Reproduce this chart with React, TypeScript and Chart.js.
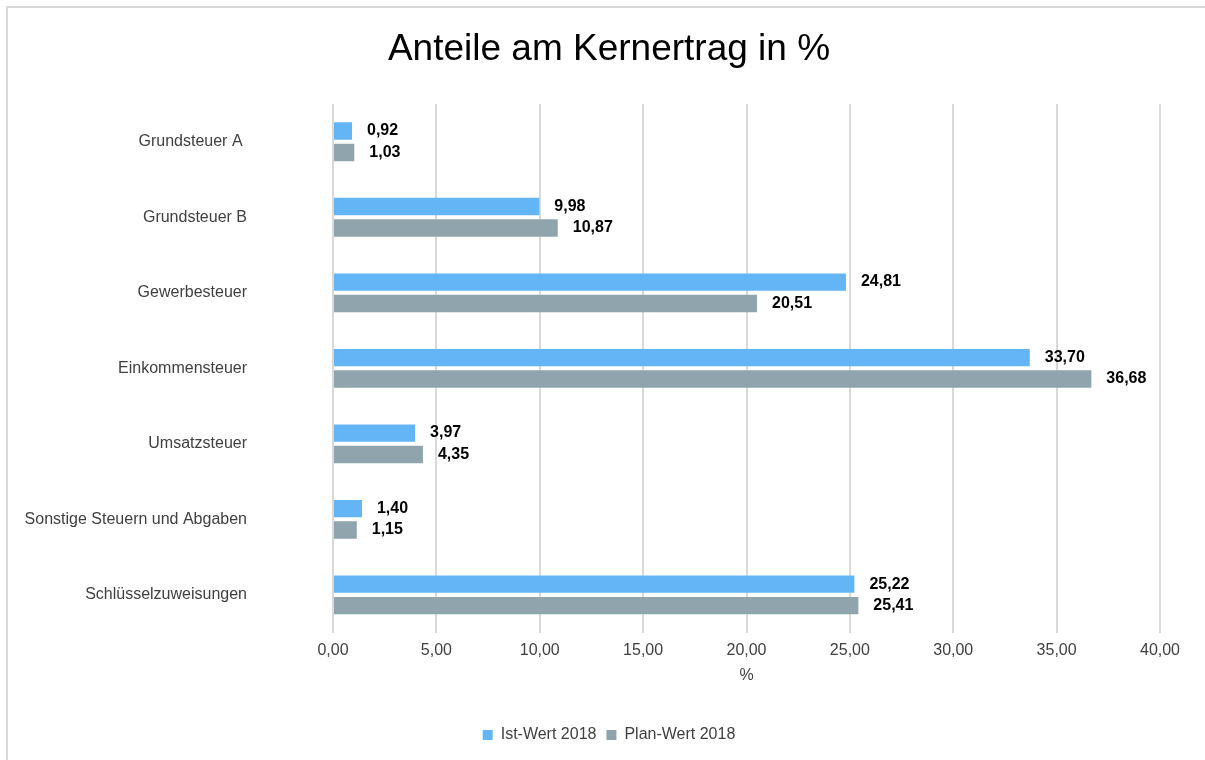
import React, { useEffect, useRef } from "react";
import { Chart, registerables } from "chart.js";

Chart.register(...registerables);

const categories = [
  "Grundsteuer A ",
  "Grundsteuer B",
  "Gewerbesteuer",
  "Einkommensteuer",
  "Umsatzsteuer",
  "Sonstige Steuern und Abgaben",
  "Schlüsselzuweisungen",
];
const istWerte = [0.92, 9.98, 24.81, 33.7, 3.97, 1.4, 25.22];
const planWerte = [1.03, 10.87, 20.51, 36.68, 4.35, 1.15, 25.41];
const seriesNames = ["Ist-Wert 2018", "Plan-Wert 2018"];
const xMin = 0;
const xMax = 40;
const xStep = 5;

const FONT = "'Liberation Sans', Arial, sans-serif";
const fmt = (v: number) => v.toFixed(2).replace(".", ",");

const valueLabels = {
  id: "valueLabels",
  afterDatasetsDraw(chart: any) {
    const ctx = chart.ctx;
    ctx.save();
    ctx.font = `bold 16px ${FONT}`;
    ctx.fillStyle = "#000";
    ctx.textAlign = "left";
    ctx.textBaseline = "middle";
    chart.data.datasets.forEach((ds: any, di: number) => {
      const meta = chart.getDatasetMeta(di);
      meta.data.forEach((el: any, i: number) => {
        ctx.fillText(fmt(ds.data[i]), el.x + 15, el.y);
      });
    });
    ctx.restore();
  },
};

export default function App() {
  const ref = useRef<HTMLCanvasElement>(null);
  useEffect(() => {
    if (!ref.current) return;
    const chart = new Chart(ref.current, {
      type: "bar",
      data: {
        labels: categories,
        datasets: [
          {
            label: seriesNames[0],
            data: istWerte,
            backgroundColor: "#64B5F6",
            categoryPercentage: 0.568,
            barPercentage: 0.81,
          },
          {
            label: seriesNames[1],
            data: planWerte,
            backgroundColor: "#90A4AE",
            categoryPercentage: 0.568,
            barPercentage: 0.81,
          },
        ],
      },
      options: {
        indexAxis: "y",
        responsive: false,
        animation: false,
        devicePixelRatio: 1,
        layout: { padding: { left: 58, right: 45, top: 0, bottom: 7 } },
        plugins: {
          title: {
            display: true,
            text: "Anteile am Kernertrag in %",
            color: "#000",
            font: { family: FONT, size: 37, weight: "normal" },
            padding: { top: 28, bottom: 31.6 },
          },
          legend: {
            position: "bottom",
            labels: {
              boxWidth: 10,
              boxHeight: 10,
              color: "#404040",
              font: { family: FONT, size: 16 },
              padding: 10,
            },
          },
          tooltip: { enabled: false },
        },
        scales: {
          x: {
            min: xMin,
            max: xMax,
            ticks: {
              stepSize: xStep,
              color: "#404040",
              font: { family: FONT, size: 16 },
              padding: 8,
              callback: (v: any) => fmt(Number(v)),
            },
            grid: { color: "#d9d9d9", lineWidth: 2, drawTicks: false },
            border: { display: false },
            title: {
              display: true,
              text: "%",
              color: "#404040",
              font: { family: FONT, size: 16 },
              padding: { top: 4, bottom: 31.8 },
            },
            afterFit: (s: any) => {
              s.height = 84.4;
            },
          },
          y: {
            ticks: {
              color: "#404040",
              font: { family: FONT, size: 16 },
              padding: 86,
            },
            grid: { display: false, drawTicks: false },
            border: { display: false },
            afterFit: (s: any) => {
              s.width = 275;
              s._computeLabelArea = () => undefined;
            },
          },
        },
      },
      plugins: [valueLabels],
    } as any);
    return () => chart.destroy();
  }, []);

  return (
    <div style={{ position: "fixed", left: 0, top: 0, width: 1205, height: 760, overflow: "hidden", background: "#fff" }}>
      <canvas ref={ref} width={1205} height={760} style={{ position: "absolute", left: 0, top: 0, width: 1205, height: 760 }} />
      <div
        style={{
          position: "absolute",
          left: 6,
          top: 6,
          width: 1205,
          height: 760,
          borderLeft: "2px solid #d9d9d9",
          borderTop: "2px solid #d9d9d9",
          pointerEvents: "none",
        }}
      />
    </div>
  );
}
